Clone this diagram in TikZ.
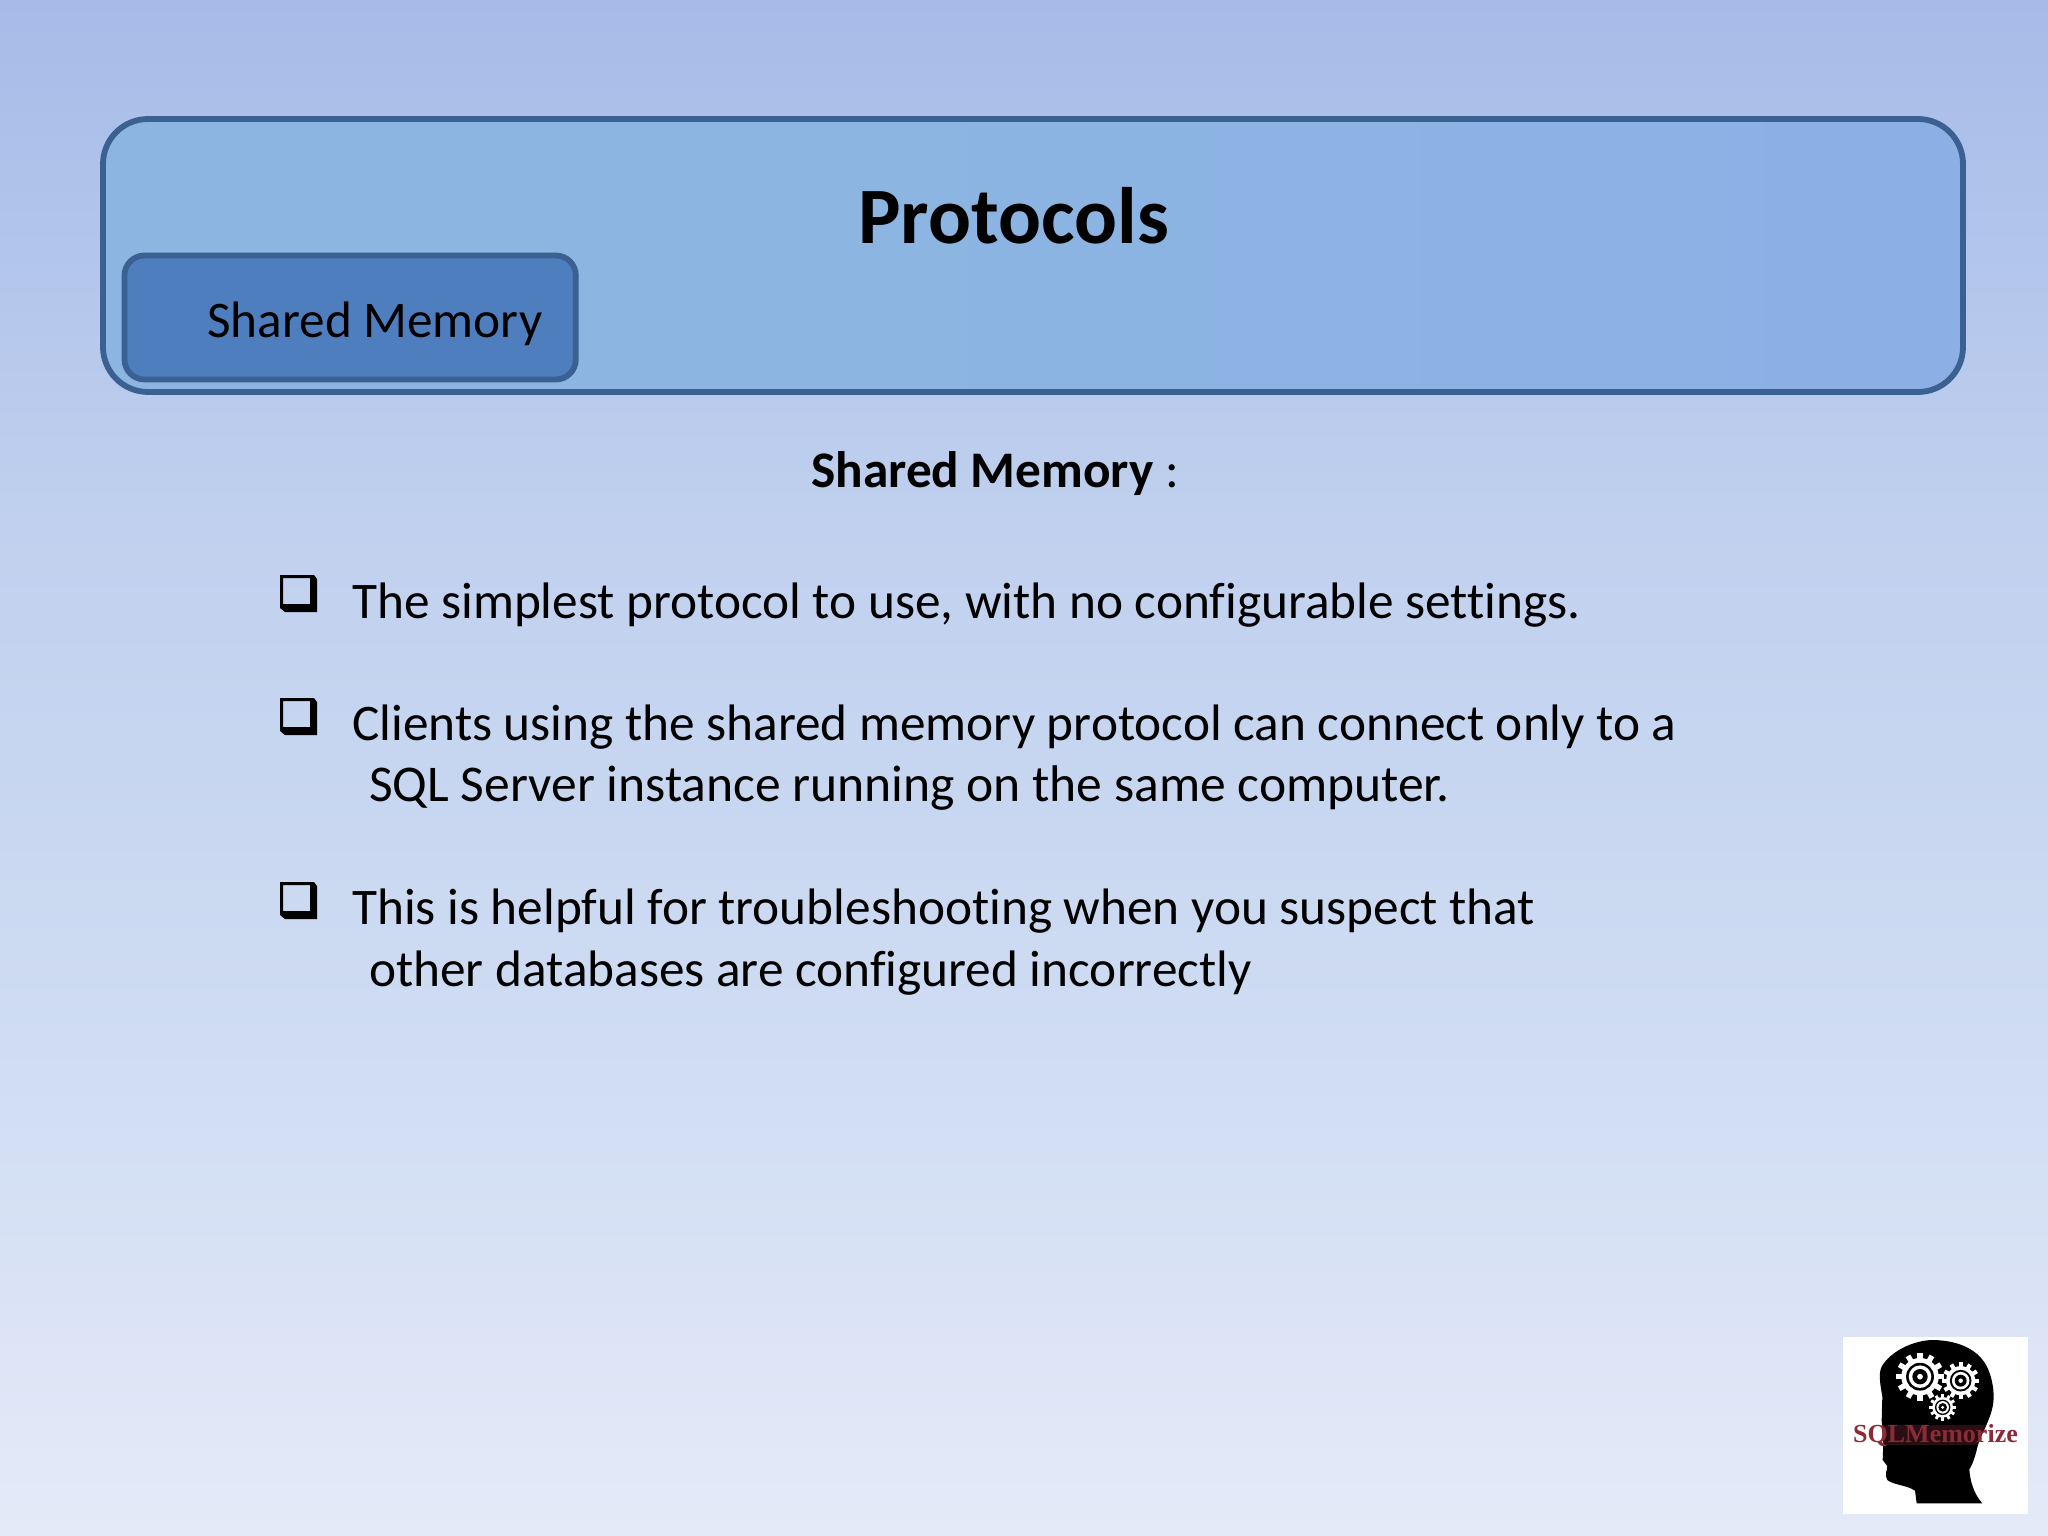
\documentclass[tikz,border=0pt]{standalone}
\usepackage{fontspec}
\setmainfont[RawFeature={-liga;-clig}]{Carlito}
\newfontfamily\logofont{Liberation Serif}
\definecolor{bgA}{HTML}{A6BBE8}
\definecolor{bgB}{HTML}{C0D0EE}
\definecolor{bgC}{HTML}{D0DDF3}
\definecolor{bgD}{HTML}{E5EAF8}
\pgfdeclareverticalshading{slidebg}{100bp}{
  color(0bp)=(bgD); color(25bp)=(bgD); color(40bp)=(bgC); color(58bp)=(bgB); color(75bp)=(bgA); color(100bp)=(bgA)}
\definecolor{edgeblue}{HTML}{3A6192}
\definecolor{innerblue}{HTML}{4F7EBF}
\definecolor{logored}{HTML}{8A2C38}
\definecolor{outerL}{HTML}{8CB5E2}
\definecolor{outerM}{HTML}{8CB3E4}
\definecolor{outerR}{HTML}{8CB0E6}
\pgfdeclarehorizontalshading{titlefill}{100bp}{
  color(0bp)=(outerL); color(25bp)=(outerL); color(45bp)=(outerL); color(58bp)=(outerM); color(72bp)=(outerR); color(100bp)=(outerR)}
\newcommand{\pxfont}[1]{\fontsize{#1}{#1}\selectfont}
\tikzset{
  titlebox/.style={draw=edgeblue,line width=5.8pt,rounded corners=45pt,shade,shading=titlefill},
  tabbox/.style={draw=edgeblue,line width=5.8pt,rounded corners=20pt,fill=innerblue},
  txt/.style={anchor=base west,inner sep=0pt,text=black},
  bodytxt/.style={txt,font=\pxfont{51.3}},
  pics/tick/.style={code={
    \fill[black,even odd rule] (0,0)--(34,0)--(37,4)--(37,37)--(5,37)--(0,33)--cycle
      (3,3)--(30,3)--(30,29)--(3,29)--cycle;}},
  pics/cog/.style={code={
    \fill[white] (0,0) circle (#1*0.78);
    \foreach \a in {0,30,...,330}{\fill[white,rotate=\a] (-#1*0.11,0) rectangle (#1*0.11,#1);}
    \fill[black] (0,0) circle (#1*0.58);
    \fill[white] (0,0) circle (#1*0.47);
    \fill[black] (0,0) circle (#1*0.32);
    \fill[white] (0,0) circle (#1*0.12);}}
}
\begin{document}
\begin{tikzpicture}[x=1pt,y=-1pt]
\useasboundingbox (0,0) rectangle (2048,1536);
\shade[shading=slidebg] (0,0) rectangle (2048,1536);
\path[titlebox] (103,119) rectangle (1963,392);
\path[tabbox] (124.5,255.5) rectangle (575.8,379.5);
\node[txt,font=\pxfont{80}\bfseries] (title) at (858,243) {Protocols};
\node[txt,font=\pxfont{51.3}] (tab) at (207,337) {Shared Memory};
\node[bodytxt] (head) at (811,487) {\textbf{Shared Memory} :};
\pic at (280,575) {tick};
\node[bodytxt] (l1) at (352,618) {The simplest protocol to use, with no configurable settings.};
\pic at (280,698) {tick};
\node[bodytxt] (l2) at (352,740.5) {Clients using the shared memory protocol can connect only to a};
\node[bodytxt,font=\pxfont{51.55}] (l3) at (369,801.5) {SQL Server instance running on the same computer.};
\pic at (280,882) {tick};
\node[bodytxt] (l4) at (352,924.5) {This is helpful for troubleshooting when you suspect that};
\node[bodytxt] (l5) at (369,986) {other databases are configured incorrectly};
% logo
\fill[white] (1843,1337) rectangle (2028,1514);
\begin{scope}[shift={(1800,1310)},scale=1/3,transform shape]
  \def\headpath{(400,90) .. controls (480,92) and (530,120) .. (555,160)
    .. controls (580,200) and (585,260) .. (578,290)
    .. controls (570,330) and (545,370) .. (535,400)
    .. controls (528,430) and (520,460) .. (508,478)
    .. controls (510,510) and (520,550) .. (547,580)
    -- (350,580) -- (345,542)
    .. controls (320,525) and (280,525) .. (262,510)
    .. controls (252,495) and (262,480) .. (262,468)
    -- (248,450) -- (250,400) -- (245,330) -- (247,260)
    .. controls (240,220) and (235,190) .. (245,170)
    .. controls (270,125) and (340,90) .. (400,90) -- cycle}
  \fill[black] \headpath;
  \begin{scope}
    \clip \headpath;
    \fill[black!55!logored!70!black] (200,345) rectangle (600,405);
  \end{scope}
  \pic at (360,200) {cog=72};
  \pic at (482,212) {cog=56};
  \pic at (428,292) {cog=40};
\end{scope}
\node[txt,font=\logofont\pxfont{26}\bfseries,text=logored] (logo) at (1853,1442) {SQLMemorize};
\end{tikzpicture}
\end{document}
